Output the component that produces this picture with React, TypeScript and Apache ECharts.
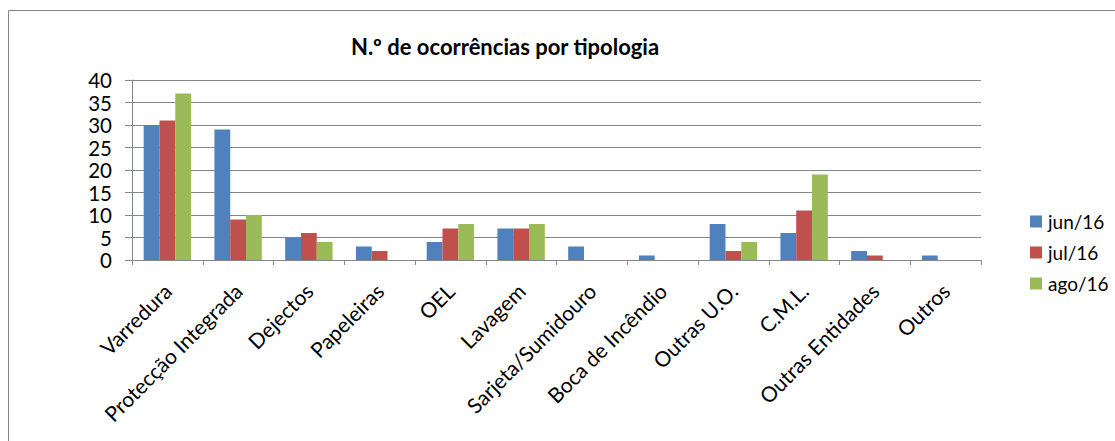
import React, { useEffect, useRef } from "react";
import * as echarts from "echarts";

const categories = [
  "Varredura",
  "Protecção Integrada",
  "Dejectos",
  "Papeleiras",
  "OEL",
  "Lavagem",
  "Sarjeta/Sumidouro",
  "Boca de Incêndio",
  "Outras U.O.",
  "C.M.L.",
  "Outras Entidades",
  "Outros",
];
const seriesNames = ["jun/16", "jul/16", "ago/16"];
const jun16 = [30, 29, 5, 3, 4, 7, 3, 1, 8, 6, 2, 1];
const jul16 = [31, 9, 6, 2, 7, 7, 0, 0, 2, 11, 1, 0];
const ago16 = [37, 10, 4, 0, 8, 8, 0, 0, 4, 19, 0, 0];
const colors = ["#4F81BD", "#C0504D", "#9BBB59"];
const title = "N.º de ocorrências por tipologia";

const FONT = "Lato, 'Open Sans', sans-serif";

export default function App() {
  const ref = useRef<HTMLDivElement>(null);
  useEffect(() => {
    if (!ref.current) return;
    const chart = echarts.init(ref.current, null, { renderer: "svg" });
    const data = [jun16, jul16, ago16];
    chart.setOption({
      animation: false,
      backgroundColor: "#ffffff",
      textStyle: { fontFamily: FONT },
      title: {
        text: title,
        left: 500,
        textAlign: "center",
        top: 30,
        textStyle: { fontFamily: FONT, fontWeight: "bold", fontSize: 22, color: "#000" },
      },
      graphic: [
        {
          type: "rect",
          shape: { x: 8.5, y: 10.5, width: 1200, height: 600 },
          style: { fill: "none", stroke: "#868686", lineWidth: 1 },
          silent: true,
        },
      ],
      legend: {
        orient: "vertical",
        left: 1025,
        top: 207,
        itemWidth: 12,
        itemHeight: 12,
        itemGap: 12,
        icon: "rect",
        textStyle: { fontFamily: FONT, fontSize: 19, lineHeight: 12, color: "#000", padding: [0, 0, 0, 1] },
        data: seriesNames,
      },
      grid: { left: 132, right: 134, top: 80, bottom: 181, containLabel: false },
      xAxis: {
        type: "category",
        data: categories,
        axisLine: { show: true, lineStyle: { color: "#868686", width: 1 } },
        axisTick: { show: true, length: 5, alignWithLabel: false, lineStyle: { color: "#868686" } },
        axisLabel: {
          rotate: 45,
          interval: 0,
          fontFamily: FONT,
          fontSize: 21,
          color: "#000",
          margin: 27,
        },
      },
      yAxis: {
        type: "value",
        min: 0,
        max: 40,
        interval: 5,
        axisLine: { show: true, lineStyle: { color: "#868686", width: 1 } },
        axisTick: { show: true, length: 7, lineStyle: { color: "#868686" } },
        axisLabel: { fontFamily: FONT, fontSize: 20.5, lineHeight: 18, color: "#000", margin: 20 },
        splitLine: { show: true, lineStyle: { color: "#868686", width: 1 } },
      },
      series: seriesNames.map((name, i) => ({
        name,
        type: "bar",
        data: data[i],
        barGap: "0%",
        barCategoryGap: "33%",
        itemStyle: { color: colors[i] },
      })),
    });
    return () => chart.dispose();
  }, []);
  return (
    <div
      ref={ref}
      style={{ position: "fixed", left: 0, top: 0, width: 1115, height: 441 }}
    />
  );
}
